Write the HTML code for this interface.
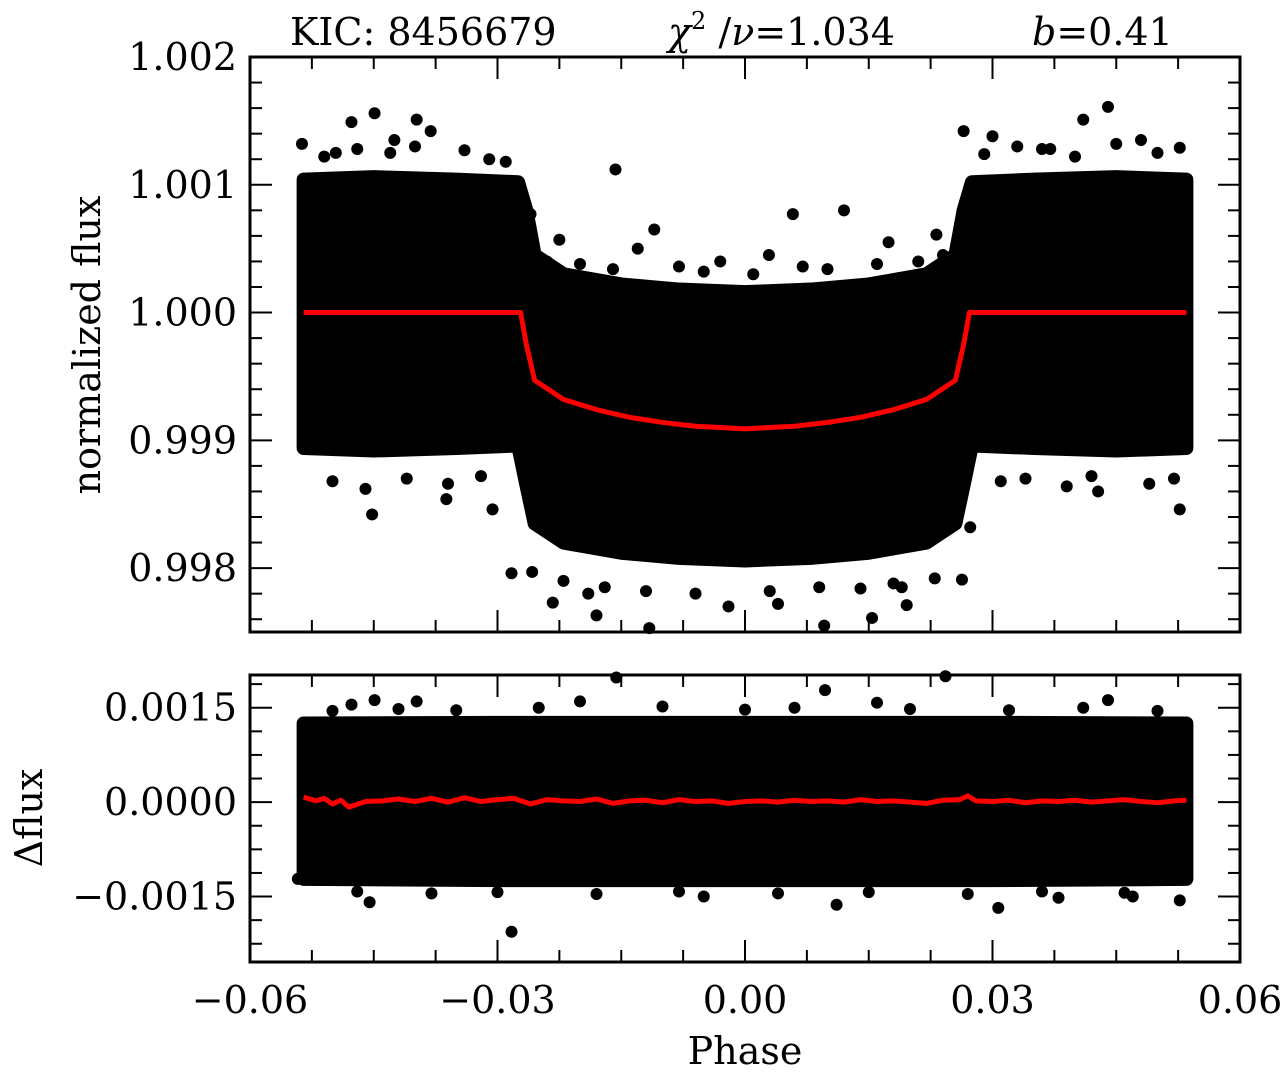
<!DOCTYPE html>
<html><head><meta charset="utf-8"><style>
html,body{margin:0;padding:0;background:#fff;}
svg{display:block;font-family:"DejaVu Serif","Liberation Serif",serif;}
</style></head><body>
<svg id="chart" width="1288" height="1074" viewBox="0 0 1288 1074" xmlns="http://www.w3.org/2000/svg">
<text x="290" y="45" font-size="38">KIC:  8456679</text>
<text x="668" y="45" font-size="38"><tspan font-style="italic">χ</tspan><tspan font-size="24" dy="-16">2</tspan><tspan dy="16"> /</tspan><tspan font-style="italic">ν</tspan>=1.034</text>
<text x="1032" y="45" font-size="38"><tspan font-style="italic">b</tspan>=0.41</text>
<text transform="translate(100,345) rotate(-90)" text-anchor="middle" font-size="38">normalized  flux</text>
<text transform="translate(42,818) rotate(-90)" text-anchor="middle" font-size="38">Δflux</text>
<text x="745" y="1064" text-anchor="middle" font-size="38">Phase</text>
<g id="top"></g><g id="bot"></g><g id="axes"></g>
</svg>
<script>
// ---- data ----
const bandPhase = [-0.0535,-0.045,-0.035,-0.0275,-0.0265,-0.0255,-0.022,-0.015,-0.008,0,0.008,0.015,0.022,0.0255,0.0265,0.0275,0.035,0.045,0.0535];
const bandUpper = [1.00104,1.00106,1.00104,1.00102,1.00080,1.00045,1.00030,1.00022,1.00018,1.00016,1.00018,1.00022,1.00030,1.00045,1.00080,1.00102,1.00104,1.00106,1.00104];
const bandLower = [0.99894,0.99892,0.99894,0.99896,0.99865,0.99835,0.99820,0.99812,0.99808,0.99806,0.99808,0.99812,0.99820,0.99835,0.99865,0.99896,0.99894,0.99892,0.99894];
const modelPhase = [-0.0535,-0.0272,-0.0265,-0.0255,-0.022,-0.018,-0.014,-0.010,-0.006,-0.003,0,0.003,0.006,0.010,0.014,0.018,0.022,0.0255,0.0265,0.0272,0.0535];
const modelFlux = [1.0,1.0,0.99975,0.99947,0.99932,0.99924,0.99918,0.99914,0.99911,0.99910,0.99909,0.99910,0.99911,0.99914,0.99918,0.99924,0.99932,0.99947,0.99975,1.0,1.0];
const outPhase = [-0.0449,-0.0477,-0.0398,-0.0537,-0.0381,-0.0157,0.0058,0.0440,0.0410,0.0265,0.0527,-0.0452,-0.0283,-0.0258,-0.0233,-0.0180,-0.0116,0.0096,0.0154,0.0196,0.0263,0.0273,0.0527,-0.0306,-0.0362,0.0428,-0.026,-0.0225,-0.011,0.0029,0.012,0.0174,0.0232,-0.013,-0.003,-0.0496,-0.0425,0.030,0.037,0.048,-0.002,0.004,-0.019,0.019,
 -0.051,-0.047,-0.043,-0.040,-0.034,-0.031,-0.029,-0.050,-0.046,-0.041,-0.036,-0.032,0.029,0.033,0.036,0.040,0.045,0.050,0.031,0.034,0.039,0.042,0.049,0.052,
 -0.024,-0.020,-0.016,-0.008,-0.005,0.001,0.007,0.010,0.016,0.021,0.024,-0.022,-0.017,-0.012,-0.006,0.003,0.009,0.014,0.018,0.023];
const outFlux = [1.00156,1.00149,1.00151,1.00132,1.00142,1.00112,1.00077,1.00161,1.00151,1.00142,1.00129,0.99842,0.99796,0.99797,0.99773,0.99763,0.99753,0.99755,0.99761,0.99771,0.99791,0.99832,0.99846,0.99846,0.99854,0.99860,1.00077,1.00057,1.00065,1.00045,1.00080,1.00055,1.00061,1.00050,1.00040,1.00125,1.00135,1.00138,1.00128,1.00135,0.99770,0.99772,0.99780,0.99785,
 1.00122,1.00128,1.00125,1.00130,1.00127,1.00120,1.00118,0.99868,0.99862,0.99870,0.99866,0.99872,1.00124,1.00130,1.00128,1.00122,1.00132,1.00125,0.99868,0.99870,0.99864,0.99872,0.99866,0.99870,
 1.00040,1.00038,1.00034,1.00036,1.00032,1.00030,1.00036,1.00034,1.00038,1.00040,1.00045,0.99790,0.99785,0.99782,0.99780,0.99782,0.99785,0.99784,0.99788,0.99792];
const resBandPhase = [-0.0535,-0.03,0,0.03,0.0535];
const resUpper = [0.00125,0.00126,0.00126,0.00126,0.00125];
const resLower = [-0.00122,-0.00124,-0.00124,-0.00124,-0.00122];
const resOutPhase = [-0.0156,0.0243,-0.0283,0.0097,0.0440,-0.0449,0.0307,-0.0542,-0.0455,0.0527,0.0111,-0.0398,-0.0477,0.0160,-0.0050,0.0380,-0.0200,0.0470,
 -0.050,-0.042,-0.035,-0.025,-0.010,0.000,0.006,0.020,0.032,0.041,0.050,-0.047,-0.038,-0.030,-0.018,-0.008,0.004,0.015,0.027,0.036,0.046];
const resOutVal = [0.00198,0.00200,-0.00206,0.00178,0.00162,0.00162,-0.00168,-0.00122,-0.00159,-0.00156,-0.00163,0.00160,0.00155,0.00158,-0.00150,-0.00152,0.00160,-0.00150,
 0.00145,0.00148,0.00146,0.00150,0.00152,0.00147,0.00150,0.00148,0.00146,0.00150,0.00145,-0.00142,-0.00145,-0.00143,-0.00146,-0.00142,-0.00145,-0.00143,-0.00146,-0.00142,-0.00144];
const resLinePhase = [-0.0535,-0.052,-0.051,-0.050,-0.049,-0.048,-0.046,-0.044,-0.042,-0.040,-0.038,-0.036,-0.034,-0.032,-0.030,-0.028,-0.026,-0.024,-0.022,-0.020,-0.018,-0.016,-0.014,-0.012,-0.010,-0.008,-0.006,-0.004,-0.002,0,0.002,0.004,0.006,0.008,0.010,0.012,0.014,0.016,0.018,0.020,0.022,0.024,0.026,0.027,0.028,0.030,0.032,0.034,0.036,0.038,0.040,0.042,0.044,0.046,0.048,0.050,0.052,0.0535];
const resLineVal = [0.00008,0.00002,0.00006,-0.00003,0.00003,-0.00008,0.00001,0.00002,0.00005,0.00001,0.00006,0.00000,0.00007,0.00001,0.00004,0.00006,-0.00003,0.00004,0.00002,0.00001,0.00005,-0.00002,0.00002,0.00003,-0.00001,0.00004,0.00001,0.00002,-0.00002,0.00001,0.00002,0.00000,0.00003,0.00001,0.00002,0.00000,0.00004,0.00001,0.00002,0.00000,-0.00002,0.00003,0.00004,0.00010,0.00002,0.00001,0.00003,-0.00001,0.00002,0.00001,0.00003,0.00000,0.00002,0.00004,0.00001,-0.00001,0.00002,0.00003];
const xTicks = [-0.06,-0.03,0,0.03,0.06];
const xTickLabels = ["−0.06","−0.03","0.00","0.03","0.06"];
const yTopTicks = [1.002,1.001,1.000,0.999,0.998];
const yTopLabels = ["1.002","1.001","1.000","0.999","0.998"];
const yBotTicks = [0.0015,0,-0.0015];
const yBotLabels = ["0.0015","0.0000","−0.0015"];

// ---- axes ----
const X0=250,X1=1240;
const xs=v=>X0+(v+0.06)/0.12*(X1-X0);
const TY0=57,TY1=632,topMax=1.002,topMin=0.9975;
const yt=v=>TY0+(topMax-v)/(topMax-topMin)*(TY1-TY0);
const BY0=675,BY1=962,botMax=0.00202,botMin=-0.00254;
const yb=v=>BY0+(botMax-v)/(botMax-botMin)*(BY1-BY0);
const NS="http://www.w3.org/2000/svg";
function mk(tag,parent,attrs){const e=document.createElementNS(NS,tag);for(const k in attrs)e.setAttribute(k,attrs[k]);parent.appendChild(e);return e;}
const gT=document.getElementById('top'),gB=document.getElementById('bot'),gA=document.getElementById('axes');

let pts=bandPhase.map((p,i)=>xs(p)+','+yt(bandUpper[i])).concat(bandPhase.slice().reverse().map((p,i)=>xs(p)+','+yt(bandLower[bandPhase.length-1-i])));
let band=mk('polygon',gT,{points:pts.join(' '),fill:'#000',stroke:'#000','stroke-width':14,'stroke-linejoin':'round'});


outPhase.forEach((p,i)=>{const c=mk('circle',gT,{cx:xs(p),cy:yt(outFlux[i]),r:6,fill:'#000'});

});
let model=mk('polyline',gT,{points:modelPhase.map((p,i)=>xs(p)+','+yt(modelFlux[i])).join(' '),fill:'none',stroke:'#f00','stroke-width':5,'stroke-linejoin':'round'});



pts=resBandPhase.map((p,i)=>xs(p)+','+yb(resUpper[i])).concat(resBandPhase.slice().reverse().map((p,i)=>xs(p)+','+yb(resLower[resBandPhase.length-1-i])));
let rb=mk('polygon',gB,{points:pts.join(' '),fill:'#000',stroke:'#000','stroke-width':14,'stroke-linejoin':'round'});


resOutPhase.forEach((p,i)=>{const c=mk('circle',gB,{cx:xs(p),cy:yb(resOutVal[i]),r:6,fill:'#000'});

});
let rl=mk('polyline',gB,{points:resLinePhase.map((p,i)=>xs(p)+','+yb(resLineVal[i])).join(' '),fill:'none',stroke:'#f00','stroke-width':5,'stroke-linejoin':'round'});



function frame(y0,y1,name){const r=mk('rect',gA,{x:X0,y:y0,width:X1-X0,height:y1-y0,fill:'none',stroke:'#000','stroke-width':3});


for(let v=-0.06;v<=0.0601;v+=0.0075){const x=xs(v);const major=Math.abs(Math.round(v/0.03)*0.03-v)<1e-6;const L=major?22:12;
mk('line',gA,{x1:x,y1:y0,x2:x,y2:y0+L,stroke:'#000','stroke-width':2});
mk('line',gA,{x1:x,y1:y1,x2:x,y2:y1-L,stroke:'#000','stroke-width':2});}}
frame(TY0,TY1,'top-panel-frame');frame(BY0,BY1,'bottom-panel-frame');
function yt_ticks(fn,step,majStep,lo,hi,y0,y1){for(let k=Math.ceil(lo/step-1e-6);k*step<=hi+1e-9;k++){const v=k*step;const y=fn(v);if(y<y0-0.5||y>y1+0.5)continue;
const major=Math.abs(Math.round(v/majStep)*majStep-v)<step*0.01;const L=major?22:12;
mk('line',gA,{x1:X0,y1:y,x2:X0+L,y2:y,stroke:'#000','stroke-width':2});
mk('line',gA,{x1:X1,y1:y,x2:X1-L,y2:y,stroke:'#000','stroke-width':2});}}
yt_ticks(yt,0.0002,0.001,0.9974,1.0021,TY0,TY1);
yt_ticks(yb,0.000375,0.0015,-0.0026,0.0021,BY0,BY1);
yTopTicks.forEach((v,i)=>{const t=mk('text',gA,{x:237,y:yt(v)+13,'text-anchor':'end','font-size':38});t.textContent=yTopLabels[i];

});
yBotTicks.forEach((v,i)=>{const t=mk('text',gA,{x:237,y:yb(v)+13,'text-anchor':'end','font-size':38});t.textContent=yBotLabels[i];

});
xTicks.forEach((v,i)=>{const t=mk('text',gA,{x:xs(v),y:1013,'text-anchor':'middle','font-size':38});t.textContent=xTickLabels[i];

});
</script>
</body></html>
